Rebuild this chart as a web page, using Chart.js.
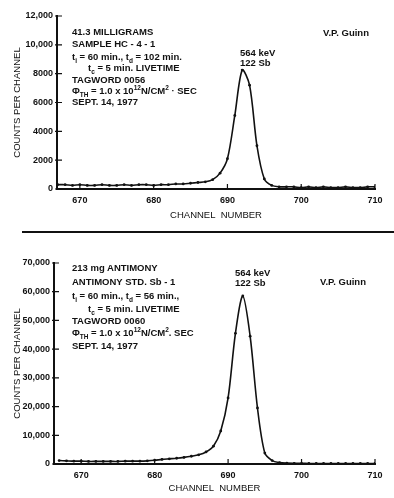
<!DOCTYPE html>
<html>
<head>
<meta charset="utf-8">
<script src="https://cdn.jsdelivr.net/npm/chart.js@4/dist/chart.umd.min.js"></script>
<style>
  html, body { margin: 0; padding: 0; background: #fff; }
  body { width: 394px; height: 498px; position: relative; overflow: hidden;
         font-family: "Liberation Sans", Arial, sans-serif; color: #111; }
  canvas { position: absolute; left: 0; }
  .note { position: absolute; font-weight: bold; font-size: 9.5px; line-height: 10px; white-space: nowrap; }
  .note sub, .note sup { font-size: 6.5px; line-height: 0; }
  .sep { position: absolute; left: 22px; top: 231px; width: 372px; height: 2px; background: #111; }
</style>
</head>
<body>
<canvas id="topChart" width="394" height="221" style="top:0"></canvas>
<canvas id="bottomChart" width="394" height="254" style="top:240px"></canvas>
<div class="sep"></div>

<div class="note" style="left:72px;top:27px">41.3 MILLIGRAMS</div>
<div class="note" style="left:72px;top:39px">SAMPLE HC - 4 - 1</div>
<div class="note" style="left:72px;top:52px">t<sub>i</sub> = 60 min., t<sub>d</sub> = 102 min.</div>
<div class="note" style="left:88px;top:63px">t<sub>c</sub> = 5 min. LIVETIME</div>
<div class="note" style="left:72px;top:75px">TAGWORD 0056</div>
<div class="note" style="left:72px;top:86px">Φ<sub>TH</sub> = 1.0 x 10<sup>12</sup>N/CM<sup>2</sup> · SEC</div>
<div class="note" style="left:72px;top:97px">SEPT. 14, 1977</div>
<div class="note" style="left:240px;top:48px">564 keV<br>122 Sb</div>
<div class="note" style="left:323px;top:28px">V.P. Guinn</div>

<div class="note" style="left:72px;top:263px">213 mg ANTIMONY</div>
<div class="note" style="left:72px;top:277px">ANTIMONY STD. Sb - 1</div>
<div class="note" style="left:72px;top:291px">t<sub>i</sub> = 60 min., t<sub>d</sub> = 56 min.,</div>
<div class="note" style="left:88px;top:304px">t<sub>c</sub> = 5 min. LIVETIME</div>
<div class="note" style="left:72px;top:316px">TAGWORD 0060</div>
<div class="note" style="left:72px;top:328px">Φ<sub>TH</sub> = 1.0 x 10<sup>12</sup>N/CM<sup>2</sup>. SEC</div>
<div class="note" style="left:72px;top:341px">SEPT. 14, 1977</div>
<div class="note" style="left:235px;top:268px">564 keV<br>122 Sb</div>
<div class="note" style="left:320px;top:277px">V.P. Guinn</div>

<script>
"use strict";

const channels = [
  667, 668, 669, 670, 671, 672, 673, 674, 675, 676, 677,
  678, 679, 680, 681, 682, 683, 684, 685, 686, 687, 688,
  689, 690, 691, 692, 693, 694, 695, 696, 697, 698, 699,
  700, 701, 702, 703, 704, 705, 706, 707, 708, 709, 710
];

// 41.3 mg sample HC-4-1
const sampleCounts = [
  300, 300, 250, 300, 250, 250, 300, 250, 250, 300, 250,
  300, 300, 250, 300, 300, 350, 350, 400, 450, 500, 650,
  1100, 2100, 5100, 8250, 7200, 3000, 700, 250, 150, 150, 150,
  100, 150, 100, 150, 100, 100, 150, 100, 100, 150, 150
];

// 213 mg antimony standard Sb-1
const standardCounts = [
  1200, 1100, 1000, 1000, 900, 900, 900, 900, 900, 1000, 1000,
  1000, 1100, 1300, 1600, 1800, 2000, 2300, 2700, 3200, 4200, 6200,
  11500, 23000, 45500, 58500, 44500, 19500, 3800, 1200, 500, 300, 250,
  250, 200, 200, 200, 200, 200, 200, 200, 200, 200, 200
];

const xTicks = [670, 680, 690, 700, 710];
const sampleYTicks = [0, 2000, 4000, 6000, 8000, 10000, 12000];
const standardYTicks = [0, 10000, 20000, 30000, 40000, 50000, 60000, 70000];

const ink = "#111";
const tickFont = { family: "Liberation Sans", size: 9, weight: "bold" };
const titleFont = { family: "Liberation Sans", size: 9.5 };

// short tick marks drawn on the inside of both axes
const innerTicks = {
  id: "innerTicks",
  afterDraw(chart) {
    const { ctx, chartArea } = chart;
    const x = chart.scales.x, y = chart.scales.y;
    ctx.save();
    ctx.strokeStyle = ink;
    ctx.lineWidth = 1.2;
    ctx.beginPath();
    y.ticks.forEach(t => {
      const py = y.getPixelForValue(t.value);
      ctx.moveTo(chartArea.left - 2, py);
      ctx.lineTo(chartArea.left + 5, py);
    });
    x.ticks.forEach(t => {
      const px = x.getPixelForValue(t.value);
      ctx.moveTo(px, chartArea.bottom);
      ctx.lineTo(px, chartArea.bottom - 5);
    });
    ctx.stroke();
    ctx.restore();
  }
};

function makeChart(id, counts, yTicks, yMax, xMin, padTop, axisHeight, yWidth, fmt) {
  const ctx = document.getElementById(id).getContext("2d");
  return new Chart(ctx, {
    type: "line",
    data: {
      datasets: [{
        data: channels.map((c, i) => ({ x: c, y: counts[i] })),
        borderColor: ink,
        backgroundColor: ink,
        borderWidth: 1.6,
        tension: 0.3,
        pointRadius: 1.4,
        pointHoverRadius: 1.4,
        pointBorderWidth: 0
      }]
    },
    plugins: [innerTicks],
    options: {
      responsive: false,
      animation: false,
      devicePixelRatio: 1,
      layout: { padding: { top: padTop, right: 19, left: 0, bottom: 0 } },
      plugins: { legend: { display: false }, tooltip: { enabled: false } },
      scales: {
        x: {
          type: "linear",
          min: xMin,
          max: 710,
          afterBuildTicks: s => { s.ticks = xTicks.map(v => ({ value: v })); },
          afterFit: s => { s.height = axisHeight; },
          grid: { display: false, drawTicks: false },
          border: { color: ink, width: 2 },
          ticks: { color: ink, font: tickFont, padding: 6, maxRotation: 0, autoSkip: false },
          title: { display: true, text: "CHANNEL  NUMBER", color: ink, font: titleFont, padding: { top: 0, bottom: 0 } }
        },
        y: {
          min: 0,
          max: yMax,
          afterBuildTicks: s => { s.ticks = yTicks.map(v => ({ value: v })); },
          afterFit: s => { s.width = yWidth; },
          grid: { display: false, drawTicks: false },
          border: { color: ink, width: 2 },
          ticks: { color: ink, font: tickFont, padding: 4, callback: fmt },
          title: { display: true, text: "COUNTS PER CHANNEL", color: ink, font: titleFont, padding: { top: 12, bottom: 0 } }
        }
      }
    }
  });
}

const commas = v => v.toLocaleString("en-US");
makeChart("topChart", sampleCounts, sampleYTicks, 12000, 666.9, 16, 32, 57,
  v => (v >= 10000 ? commas(v) : String(v)));
makeChart("bottomChart", standardCounts, standardYTicks, 70000, 666.3, 23, 30, 54, commas);
</script>
</body>
</html>
